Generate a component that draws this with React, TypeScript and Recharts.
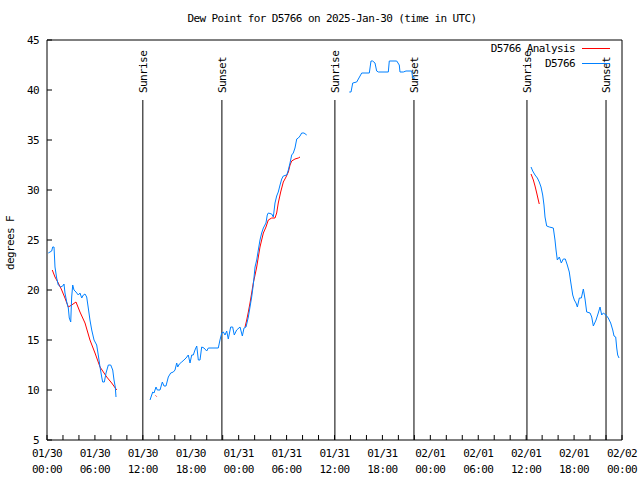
import { Legend, Line, LineChart, ReferenceLine, XAxis, YAxis } from "recharts";

const FONT = "'DejaVu Sans Mono', monospace";
const RED = "#ff0000";
const BLUE = "#0080ff";

// hours since 2025-01-30 00:00 UTC, dew point in degrees F
const obsDay1Morning: [number, number][] = [
  [0.16, 23.7], [0.59, 23.9], [0.71, 24.3], [0.88, 24.3], [1.0, 22.3], [1.21, 21.2],
  [1.41, 20.5], [1.72, 20.3], [1.97, 20.4], [2.13, 20.6], [2.25, 19.7], [2.47, 18.8],
  [2.67, 18.2], [2.79, 17.2], [2.97, 16.8], [3.09, 19.3], [3.22, 20.5], [3.38, 20.0],
  [3.63, 19.8], [3.92, 19.5], [4.13, 19.7], [4.35, 19.2], [4.55, 19.5], [4.76, 19.6],
  [4.97, 19.3], [5.17, 18.2], [5.38, 17.0], [5.6, 16.0], [5.89, 15.0], [6.22, 14.5],
  [6.42, 13.5], [6.64, 12.3], [6.85, 11.3], [6.97, 10.8], [7.18, 10.8], [7.39, 11.7],
  [7.68, 12.5], [7.98, 12.5], [8.23, 12.0], [8.39, 11.0], [8.55, 10.3], [8.64, 9.3],
];

const obsDay1Afternoon: [number, number][] = [
  [12.9, 9.0], [13.11, 9.5], [13.24, 9.8], [13.4, 9.7], [13.65, 10.3], [13.81, 10.0],
  [14.15, 10.0], [14.44, 10.8], [14.65, 10.4], [14.9, 10.4], [15.19, 11.3], [15.49, 11.7],
  [15.82, 11.8], [16.03, 12.0], [16.24, 12.7], [16.37, 12.3], [16.57, 12.6], [16.87, 12.8],
  [17.15, 13.0], [17.41, 13.2], [17.69, 13.5], [17.91, 12.7], [18.12, 13.5], [18.32, 13.5],
  [18.53, 14.0], [18.75, 14.4], [18.95, 13.0], [19.16, 13.0], [19.37, 14.3], [19.66, 14.2],
  [20.0, 13.9], [20.2, 14.2], [21.45, 14.2], [21.66, 15.0], [21.88, 15.7], [22.08, 15.8],
  [22.29, 15.5], [22.5, 15.9], [22.7, 15.1], [23.0, 16.3], [23.25, 16.3], [23.45, 15.5],
  [23.75, 16.0], [24.17, 16.3], [24.46, 15.4], [24.67, 16.2], [24.92, 16.3], [25.21, 17.3],
  [25.42, 18.3], [25.63, 19.3], [25.83, 20.5], [26.05, 22.3], [26.26, 23.0], [26.46, 24.0],
  [26.67, 25.0], [26.88, 25.7], [27.09, 26.2], [27.42, 26.7], [27.58, 27.5], [27.71, 27.7],
  [28.14, 27.6], [28.34, 27.3], [28.55, 28.7], [28.76, 29.4], [28.96, 29.8], [29.18, 30.5],
  [29.39, 31.1], [29.59, 31.4], [30.02, 31.5], [30.22, 32.0], [30.43, 32.7], [30.64, 33.5],
  [30.84, 33.7], [31.05, 34.2], [31.27, 35.1], [31.47, 35.2], [31.68, 35.4], [31.89, 35.7],
  [32.18, 35.7], [32.52, 35.5],
];

const obsDay2: [number, number][] = [
  [37.85, 39.8], [38.07, 39.8], [38.28, 40.7], [38.78, 40.8], [39.41, 41.7], [40.36, 41.7],
  [40.57, 42.9], [40.78, 42.9], [41.07, 42.7], [41.28, 41.9], [41.49, 41.8], [42.74, 41.8],
  [42.86, 42.9], [43.79, 42.9], [44.11, 42.5], [44.2, 41.8], [44.62, 41.8], [44.95, 41.9],
  [45.67, 41.9], [45.79, 41.2], [46.1, 41.2],
];

const obsDay3: [number, number][] = [
  [60.61, 32.3], [60.82, 31.9], [61.11, 31.5], [61.4, 31.2], [61.64, 30.8], [61.86, 30.3],
  [62.07, 29.5], [62.23, 28.5], [62.36, 27.3], [62.57, 26.4], [62.9, 26.3], [63.4, 26.2],
  [63.61, 25.0], [63.74, 24.0], [63.9, 23.0], [64.15, 23.3], [64.4, 22.7], [64.65, 23.1],
  [64.9, 23.1], [65.15, 22.5], [65.4, 21.8], [65.58, 20.8], [65.83, 19.5], [66.03, 19.0],
  [66.24, 18.7], [66.41, 18.3], [66.66, 19.2], [66.91, 19.2], [67.16, 20.1], [67.37, 19.1],
  [67.58, 17.8], [68.0, 17.7], [68.21, 17.3], [68.41, 16.4], [68.75, 17.0], [69.03, 17.7],
  [69.25, 18.3], [69.46, 17.5], [69.66, 17.7], [69.99, 17.5], [70.28, 17.2], [70.58, 16.7],
  [70.84, 16.0], [71.0, 15.4], [71.21, 15.3], [71.34, 14.2], [71.46, 13.5], [71.63, 13.2],
];

const anaDay1Morning: [number, number][] = [
  [0.66, 22.0], [1.0, 21.3], [1.41, 20.7], [1.84, 20.0], [2.25, 19.2], [2.67, 18.3],
  [3.09, 18.5], [3.63, 18.8], [4.13, 17.8], [4.76, 16.7], [5.38, 15.0], [6.01, 13.7],
  [6.64, 12.3], [7.48, 11.3], [8.1, 10.7], [8.73, 10.0],
];

const anaDay1Afternoon: [number, number][] = [[13.6, 9.45], [13.72, 9.35]];

const anaDay2: [number, number][] = [
  [24.8, 16.3], [25.01, 17.0], [25.21, 17.8], [25.42, 18.7], [25.63, 19.7], [25.83, 20.7],
  [26.05, 21.5], [26.26, 22.3], [26.46, 23.3], [26.67, 24.3], [26.88, 25.0], [27.09, 25.7],
  [27.42, 26.3], [27.71, 27.0], [28.14, 27.2], [28.55, 27.2], [28.76, 27.7], [28.96, 28.7],
  [29.26, 29.8], [29.59, 30.8], [29.93, 31.3], [30.22, 31.8], [30.43, 32.5], [30.64, 32.9],
  [31.05, 33.1], [31.47, 33.2], [31.68, 33.3],
];

const anaDay3: [number, number][] = [
  [60.61, 31.6], [60.9, 31.0], [61.11, 30.4], [61.32, 29.7], [61.52, 29.0], [61.64, 28.6],
];

const hourTicks = [
  0, 2, 4, 6, 8, 10, 12, 14, 16, 18, 20, 22, 24, 26, 28, 30, 32, 34, 36,
  38, 40, 42, 44, 46, 48, 50, 52, 54, 56, 58, 60, 62, 64, 66, 68, 70, 72,
];
const labelHours = [0, 6, 12, 18, 24, 30, 36, 42, 48, 54, 60, 66, 72];
const dateLabels = ["01/30", "01/30", "01/30", "01/30", "01/31", "01/31", "01/31", "01/31", "02/01", "02/01", "02/01", "02/01", "02/02"];
const timeLabels = ["00:00", "06:00", "12:00", "18:00", "00:00", "06:00", "12:00", "18:00", "00:00", "06:00", "12:00", "18:00", "00:00"];
const yTicks = [5, 10, 15, 20, 25, 30, 35, 40, 45];

const sunHours = [12.0, 21.9, 36.05, 45.95, 60.1, 70.0];
const sunLabels = ["Sunrise", "Sunset", "Sunrise", "Sunset", "Sunrise", "Sunset"];
const sunLineTop = 39;

const observed = [obsDay1Morning, obsDay1Afternoon, obsDay2, obsDay3];
const analysis = [anaDay1Morning, anaDay1Afternoon, anaDay2, anaDay3];

const legendRows = [
  { name: "D5766 Analysis", color: RED },
  { name: "D5766", color: BLUE },
];

const toRows = (pts: [number, number][]) => pts.map(([t, v]) => ({ t, v }));

const textStyle = { fontFamily: FONT, fontSize: 11, letterSpacing: -0.6, fill: "#000" };

function BottomTick(props: any) {
  const { x, y, payload } = props;
  const i = labelHours.indexOf(payload.value);
  return (
    <g>
      <line x1={x} y1={y} x2={x} y2={y - 5} stroke="#000" />
      {i >= 0 && (
        <>
          <text x={x} y={y + 17} textAnchor="middle" style={textStyle}>{dateLabels[i]}</text>
          <text x={x} y={y + 33} textAnchor="middle" style={textStyle}>{timeLabels[i]}</text>
        </>
      )}
    </g>
  );
}

function TopTick(props: any) {
  const { x, y } = props;
  return <line x1={x} y1={y} x2={x} y2={y + 5} stroke="#000" />;
}

function LeftTick(props: any) {
  const { x, y, payload } = props;
  return (
    <g>
      <line x1={x} y1={y} x2={x + 5} y2={y} stroke="#000" />
      <text x={x - 8} y={y + 4} textAnchor="end" style={textStyle}>{payload.value}</text>
    </g>
  );
}

function RightTick(props: any) {
  const { x, y } = props;
  return <line x1={x} y1={y} x2={x - 5} y2={y} stroke="#000" />;
}

function SunLabel(text: string) {
  return (props: any) => {
    const vb = props.viewBox;
    const x = vb.x + 4;
    const y = vb.y - 7;
    return (
      <text x={x} y={y} transform={`rotate(-90, ${x}, ${y})`} style={textStyle}>{text}</text>
    );
  };
}

function LegendBox() {
  return (
    <div style={{ fontFamily: FONT, fontSize: 11, letterSpacing: -0.6, color: "#000", lineHeight: "15px" }}>
      {legendRows.map((r) => (
        <div key={r.name} style={{ display: "flex", justifyContent: "flex-end", alignItems: "center" }}>
          <span>{r.name}</span>
          <span style={{ display: "inline-block", width: 28, borderTop: `1px solid ${r.color}`, marginLeft: 7 }} />
        </div>
      ))}
    </div>
  );
}

export default function App() {
  return (
    <div style={{ position: "fixed", left: 0, top: 0, width: 640, height: 480, background: "#fff" }}>
      <div
        style={{
          position: "absolute", left: 0, top: 12, width: 640, textAlign: "center",
          fontFamily: FONT, fontSize: 11, letterSpacing: -0.6, color: "#000", paddingLeft: 24, boxSizing: "border-box",
        }}
      >
        Dew Point for D5766 on 2025-Jan-30 (time in UTC)
      </div>
      <LineChart width={640} height={480} margin={{ top: 39, right: 17, bottom: 0, left: 7 }}>
        <XAxis
          xAxisId="b" type="number" dataKey="t" domain={[0, 72]} ticks={hourTicks} interval={0}
          height={40} tickLine={false} tickSize={0} tickMargin={0} axisLine={{ stroke: "#000" }}
          tick={<BottomTick />}
        />
        <XAxis
          xAxisId="top" orientation="top" type="number" dataKey="t" domain={[0, 72]} ticks={hourTicks}
          interval={0} height={1} tickLine={false} tickSize={0} tickMargin={0} axisLine={{ stroke: "#000" }}
          tick={<TopTick />}
        />
        <YAxis
          yAxisId="l" type="number" domain={[5, 45]} ticks={yTicks} interval={0} width={40}
          tickLine={false} tickSize={0} tickMargin={0} axisLine={{ stroke: "#000" }} tick={<LeftTick />}
          label={{
            content: () => (
              <text x={14} y={243} transform="rotate(-90, 14, 243)" textAnchor="middle" style={textStyle}>
                degrees F
              </text>
            ),
          }}
        />
        <YAxis
          yAxisId="r" orientation="right" type="number" domain={[5, 45]} ticks={yTicks} interval={0} width={1}
          tickLine={false} tickSize={0} tickMargin={0} axisLine={{ stroke: "#000" }} tick={<RightTick />}
        />
        {sunHours.map((h, i) => (
          <ReferenceLine
            key={`sun-${i}`}
            xAxisId="b"
            yAxisId="l"
            segment={[{ x: h, y: 5 }, { x: h, y: sunLineTop }]}
            stroke="#000"
            strokeWidth={1}
            label={{ content: SunLabel(sunLabels[i]) }}
          />
        ))}
        {analysis.map((seg, i) => (
          <Line
            key={`ana-${i}`} xAxisId="b" yAxisId="l" data={toRows(seg)} dataKey="v" type="linear"
            stroke={RED} strokeWidth={1} dot={false} isAnimationActive={false}
          />
        ))}
        {observed.map((seg, i) => (
          <Line
            key={`obs-${i}`} xAxisId="b" yAxisId="l" data={toRows(seg)} dataKey="v" type="linear"
            stroke={BLUE} strokeWidth={1} dot={false} isAnimationActive={false}
          />
        ))}
        <Legend
          layout="vertical" align="center" verticalAlign="middle" content={<LegendBox />}
          wrapperStyle={{ top: 41, left: 440, width: 170, height: 30, bottom: "auto", right: "auto" }}
        />
      </LineChart>
    </div>
  );
}
